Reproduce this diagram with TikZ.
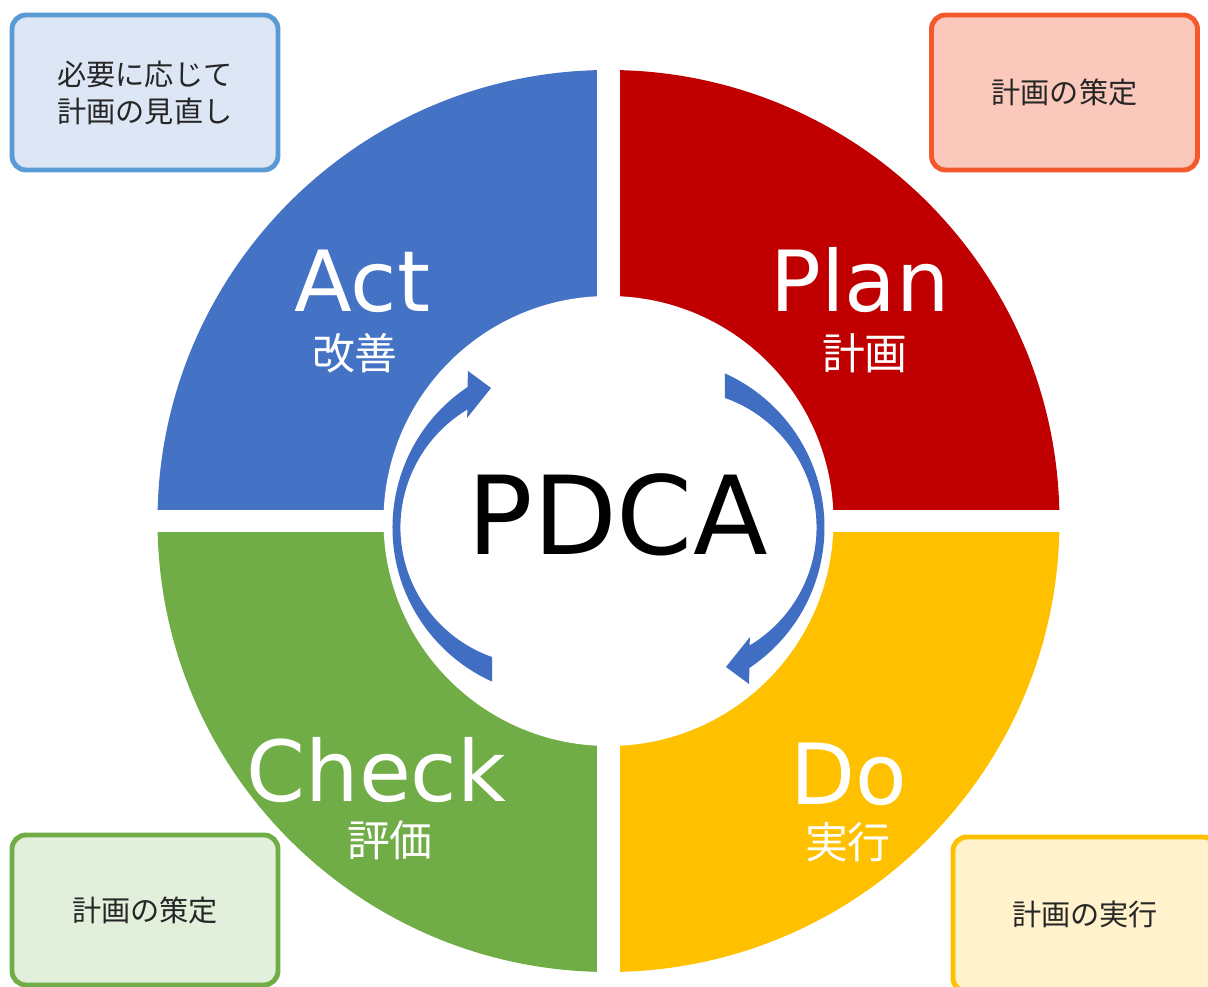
\documentclass[tikz,border=0pt]{standalone}
\usepackage{fontspec}
\setmainfont{DejaVu Sans}
\newfontfamily\jpfont{Noto Sans CJK JP}
\usetikzlibrary{arrows.meta}

\definecolor{actblue}{HTML}{4472C4}
\definecolor{planred}{HTML}{C00000}
\definecolor{checkgreen}{HTML}{70AD47}
\definecolor{doyellow}{HTML}{FFC000}
\definecolor{cycleblue}{HTML}{3F6EC2}
\definecolor{textgray}{HTML}{262626}
\definecolor{noteblue}{HTML}{5B9BD5}
\definecolor{noteorange}{HTML}{F4592C}
\definecolor{notepink}{HTML}{FAC9BC}

\tikzset{
    notebox/.style={draw, line width=1.4pt, rounded corners=4pt, minimum width=2.66cm, minimum height=1.55cm,
        align=center, text=textgray, font=\jpfont\fontsize{8.3}{10.5}\selectfont},
    stage/.style={inner sep=0pt, anchor=base, text=white, font=\fontsize{24}{24}\selectfont},
    stagejp/.style={inner sep=0pt, text=white, font=\jpfont\fontsize{12.2}{12.2}\selectfont}
}

\begin{document}
\begin{tikzpicture}

    \useasboundingbox (-6.085,-4.66) rectangle (5.995,5.21);
    \clip (-6.085,-4.66) rectangle (5.995,5.21);

    % ring
    \fill[actblue] (0,0) -- (180:4.51) arc[start angle=180, end angle=90, radius=4.51] -- cycle; % Act
    \fill[planred] (0,0) -- (90:4.51) arc[start angle=90, end angle=0, radius=4.51] -- cycle; % Plan
    \fill[doyellow] (0,0) -- (0:4.51) arc[start angle=0, end angle=-90, radius=4.51] -- cycle; % Do
    \fill[checkgreen] (0,0) -- (-90:4.51) arc[start angle=-90, end angle=-180, radius=4.51] -- cycle; % Check
    \fill[white] (0,0) circle (2.25);
    \fill[white] (-4.6,-0.11) rectangle (4.6,0.11); % horizontal gap
    \fill[white] (-0.115,-4.6) rectangle (0.115,4.6); % vertical gap

    % cycle arrows
    \begin{scope}[shift={(0,-0.065)}]
        \fill[cycleblue] (-1.165,-1.295) arc[start angle=250.5, end angle=120.8, radius=1.374]
            -- (-1.415,1.095) -- (-1.175,1.395) -- (-1.405,1.565) -- (-1.41,1.404)
            arc[start angle=123.8, end angle=245.8, radius=1.69] -- cycle; % Check -> Act
    \end{scope}
    \begin{scope}[shift={(0,-0.065)}, rotate=180]
        \fill[cycleblue] (-1.165,-1.295) arc[start angle=250.5, end angle=120.8, radius=1.374]
            -- (-1.415,1.095) -- (-1.175,1.395) -- (-1.405,1.565) -- (-1.41,1.404)
            arc[start angle=123.8, end angle=245.8, radius=1.69] -- cycle; % Plan -> Do
    \end{scope}

    \node[inner sep=0pt, anchor=base, font=\fontsize{31}{31}\selectfont] (pdca) at (0.09,-0.34) {PDCA};

    % stages
    \node[stage] (act) at (-2.46,2.09) {Act};
    \node[stagejp] (actjp) at (-2.535,1.68) {改善};
    \node[stage] (plan) at (2.515,2.09) {Plan};
    \node[stagejp] (planjp) at (2.565,1.68) {計画};
    \node[stage] (check) at (-2.32,-2.81) {Check};
    \node[stagejp] (checkjp) at (-2.185,-3.19) {評価};
    \node[stage] (do) at (2.405,-2.84) {Do};
    \node[stagejp] (dojp) at (2.395,-3.21) {実行};

    % notes
    \node[notebox, draw=noteblue, fill=actblue!18] (actnote) at (-4.635,4.285) {必要に応じて\\計画の見直し};
    \node[notebox, draw=noteorange, fill=notepink] (plannote) at (4.56,4.285) {計画の策定};
    \node[notebox, draw=checkgreen, fill=checkgreen!20, minimum height=1.5cm] (checknote) at (-4.635,-3.89) {計画の策定};
    \node[notebox, draw=doyellow, fill=doyellow!20, minimum width=2.64cm] (donote) at (4.765,-3.935) {計画の実行};

\end{tikzpicture}
\end{document}
